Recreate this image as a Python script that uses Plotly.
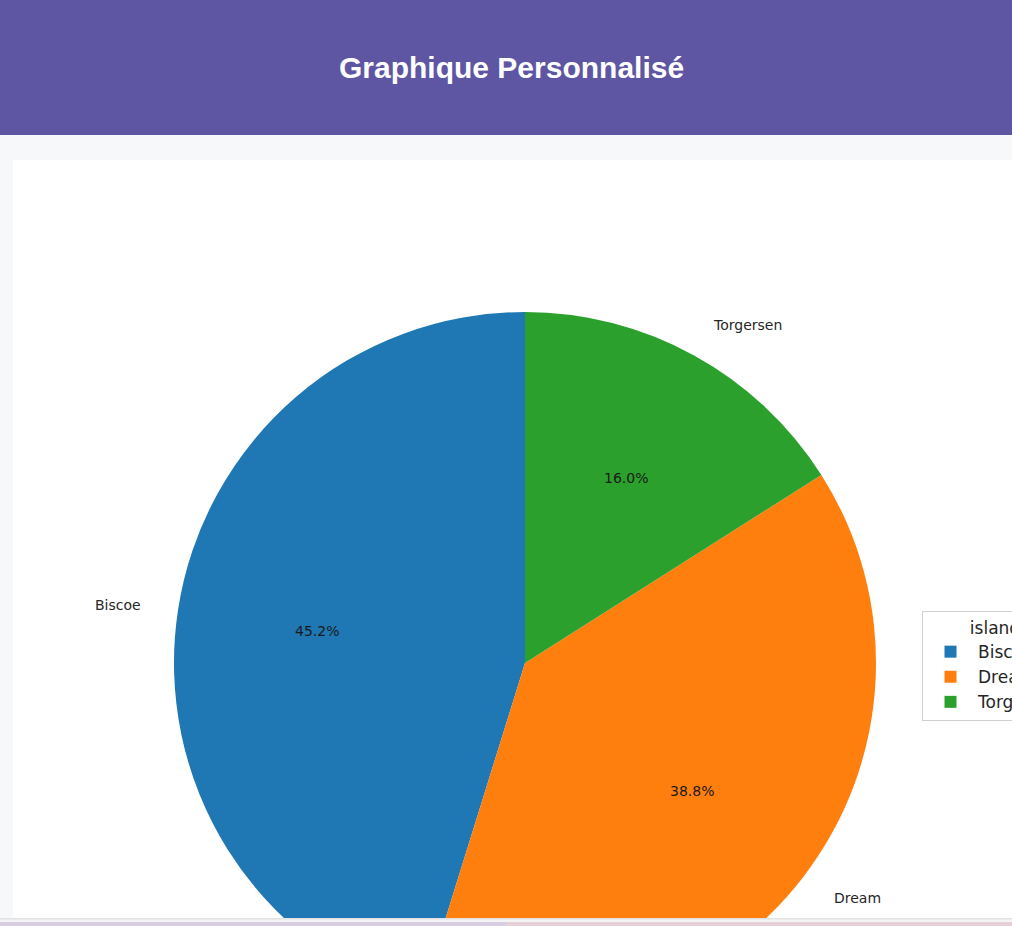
import math
import plotly.graph_objects as go

# ---- data ----
islands = ["Biscoe", "Dream", "Torgersen"]
shares = [45.2, 38.8, 16.0]
colors = ["#1f77b4", "#ff7f0e", "#2ca02c"]
legend_title = "island"
page_title = "Graphique Personnalisé"

# ---- layout constants (pixels) ----
W, H = 1012, 1030
CX, CY, R = 525, 663, 351


def px(x):
    return x / W


def py(y):
    return (H - y) / H


total = sum(shares)

fig = go.Figure()
fig.add_trace(go.Pie(
    labels=islands,
    values=shares,
    marker=dict(colors=colors, line=dict(width=0)),
    sort=False,
    direction="counterclockwise",
    # plotly places the first slice clockwise of the start angle when
    # counterclockwise; rotate so that it starts at 12 o'clock going ccw
    rotation=-360 * shares[0] / total,
    textinfo="none",
    hoverinfo="label+percent",
    domain=dict(x=[px(CX - R), px(CX + R)], y=[py(CY + R), py(CY - R)]),
    showlegend=True,
))

# labels placed like matplotlib (labeldistance 1.1, pctdistance 0.6)
annotations = []
cum = 0.0
for name, v in zip(islands, shares):
    mid = math.radians(90 + 360 * (cum + v / 2) / total)
    cum += v
    lx = CX + 1.1 * R * math.cos(mid)
    ly = CY - 1.1 * R * math.sin(mid)
    annotations.append(dict(
        x=px(lx), y=py(ly), xref="paper", yref="paper", text=name,
        showarrow=False, xanchor="left" if math.cos(mid) > 0 else "right",
        yanchor="middle", font=dict(family="DejaVu Sans", size=14, color="#262626"),
    ))
    tx = CX + 0.6 * R * math.cos(mid)
    ty = CY - 0.6 * R * math.sin(mid)
    annotations.append(dict(
        x=px(tx), y=py(ty), xref="paper", yref="paper", text=f"{v:.1f}%",
        showarrow=False, xanchor="center", yanchor="middle",
        font=dict(family="DejaVu Sans", size=14, color="#1a1a1a"),
    ))

annotations.append(dict(
    x=px(512), y=py(68), xref="paper", yref="paper", text=f"<b>{page_title}</b>",
    showarrow=False, xanchor="center", yanchor="middle",
    font=dict(family="Liberation Sans, Arial", size=30, color="white"),
))

shapes = [
    dict(type="rect", xref="paper", yref="paper", x0=0, x1=1, y0=py(135), y1=1,
         fillcolor="#5e55a3", line=dict(width=0), layer="below"),
    dict(type="rect", xref="paper", yref="paper", x0=px(13), x1=1, y0=py(918), y1=py(160),
         fillcolor="white", line=dict(width=0), layer="below"),
    dict(type="rect", xref="paper", yref="paper", x0=0, x1=1, y0=0, y1=py(918),
         fillcolor="#f4f4f4", line=dict(width=0), layer="above"),
    dict(type="rect", xref="paper", yref="paper", x0=0, x1=1, y0=py(919.5), y1=py(918),
         fillcolor="#e2e2e2", line=dict(width=0), layer="above"),
    dict(type="rect", xref="paper", yref="paper", x0=0, x1=0.5, y0=0, y1=py(922),
         fillcolor="#d9cde2", line=dict(width=0), layer="above"),
    dict(type="rect", xref="paper", yref="paper", x0=0.5, x1=1, y0=0, y1=py(922),
         fillcolor="#e6d0d8", line=dict(width=0), layer="above"),
]

fig.update_layout(
    width=W, height=H,
    margin=dict(l=0, r=0, t=0, b=0, pad=0, autoexpand=False),
    paper_bgcolor="#f7f8fa",
    plot_bgcolor="white",
    shapes=shapes,
    annotations=annotations,
    legend=dict(
        x=px(922), y=py(611), xanchor="left", yanchor="top",
        bgcolor="white", bordercolor="#d0d0d0", borderwidth=1,
        font=dict(family="DejaVu Sans", size=17, color="#262626"),
        title=dict(text=legend_title, side="top center",
                   font=dict(family="DejaVu Sans", size=17, color="#262626")),
        itemwidth=45,
        tracegroupgap=0,
    ),
)

fig.write_html(
    "out.html",
    config={"displayModeBar": False},
    post_script=(
        "document.body.style.margin='0';"
        "document.body.style.overflow='hidden';"
        "document.documentElement.style.overflow='hidden';"
    ),
)
